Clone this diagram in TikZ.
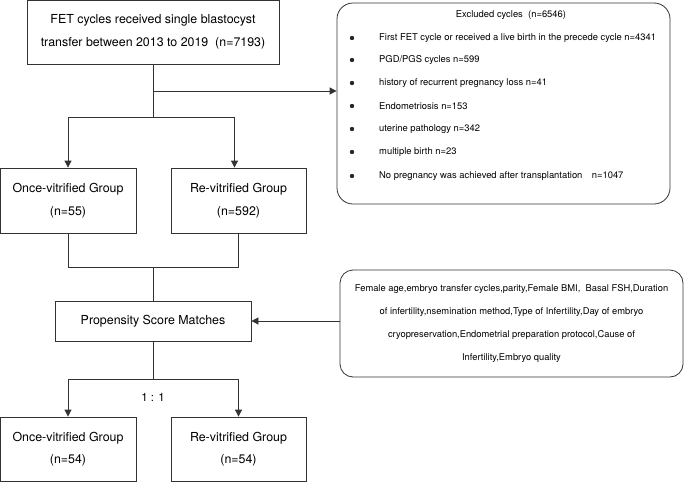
\documentclass[tikz,border=0pt]{standalone}
\usepackage{fontspec}
\setmainfont{TeX Gyre Heros}
\usetikzlibrary{arrows.meta}
\usetikzlibrary{positioning}
\tikzset{
box/.style = { rectangle, draw = black!80, fill = white, line width = 0.8pt, align = center, inner sep = 0pt, font = \fontsize{12.4}{22.5}\selectfont },
roundbox/.style = { rectangle, draw = black!80, line width = 0.8pt, inner sep = 0pt },
excl item/.style = { anchor = west, inner sep = 0pt, font = \fontsize{9.4}{11}\selectfont },
link/.style = { draw = black!80, line width = 0.8pt },
arr/.style = { link, -{Triangle[length = 7pt, width = 7pt]} },
}

\begin{document}
\begin{tikzpicture}[x = 1pt, y = -1pt]
    \useasboundingbox (0, 0) rectangle (685, 482);
    % main column
    \node[box, minimum width = 252pt, minimum height = 64pt] (fet) at (153, 32) {FET cycles received single blastocyst\\transfer between 2013 to 2019\ \ (n=7193)};
    \node[box, minimum width = 136pt, minimum height = 65pt] (once1) at (68, 200.5) {Once-vitrified Group\\(n=55)};
    \node[box, minimum width = 135pt, minimum height = 65pt] (re1) at (238.5, 200.5) {Re-vitrified Group\\(n=592)};
    \node[box, minimum width = 196pt, minimum height = 40pt] (psm) at (153, 321) {Propensity Score Matches};
    \node[box, minimum width = 136pt, minimum height = 64pt] (once2) at (68, 449) {Once-vitrified Group\\(n=54)};
    \node[box, minimum width = 135pt, minimum height = 64pt] (re2) at (238.5, 449) {Re-vitrified Group\\(n=54)};
    % side boxes
    \node[roundbox, rounded corners = 16pt, minimum width = 333pt, minimum height = 201pt] (excl) at (503.5, 103.5) {};
    \node[excl item, anchor = center] (excltitle) at (511, 15) {Excluded cycles\ \ (n=6546)};
    \foreach \y in {38, 60, 83, 106, 129, 152, 176}
        \fill[black!85] (352, \y) circle (2.2pt);
    \node[excl item] (item1) at (379, 38) {First FET cycle or received a live birth in the precede cycle n=4341};
    \node[excl item] (item2) at (379, 60) {PGD/PGS cycles n=599};
    \node[excl item] (item3) at (379, 83) {history of recurrent pregnancy loss n=41};
    \node[excl item] (item4) at (379, 106) {Endometriosis n=153};
    \node[excl item] (item5) at (379, 129) {uterine pathology n=342};
    \node[excl item] (item6) at (379, 152) {multiple birth n=23};
    \node[excl item] (item7) at (379, 176) {No pregnancy was achieved after transplantation\quad n=1047};
    \node[roundbox, rounded corners = 13pt, minimum width = 343pt, minimum height = 107pt, align = center, font = \fontsize{9.35}{23.2}\selectfont] (cov) at (511.5, 323.5) {Female age,embryo transfer cycles,parity,Female BMI,\ \ Basal FSH,Duration\\of infertility,nsemination method,Type of Infertility,Day of embryo\\cryopreservation,Endometrial preparation protocol,Cause of\\Infertility,Embryo quality};
    % connectors
    \coordinate (split1) at (153, 117);
    \coordinate (branch) at (153, 91);
    \draw[link] (fet.south) -- (split1);
    \draw[arr] (branch) -- (excl.west |- branch);
    \draw[arr] (split1) -| (once1.north);
    \draw[arr] (split1) -| ([xshift = -4pt]re1.north);
    \coordinate (join1) at (153, 267);
    \draw[link] (once1.south) |- (join1);
    \draw[link] (re1.south) |- (join1);
    \draw[link] (join1) -- (psm.north);
    \draw[arr] (cov.west |- psm.east) -- (psm.east);
    \coordinate (split2) at (153, 379);
    \draw[link] (psm.south) -- (split2);
    \draw[arr] (split2) -| (once2.north);
    \draw[arr] (split2) -| (re2.north);
    \node[font = \fontsize{11.5}{13}\selectfont] (ratio) at (153, 397) {1 : 1};
\end{tikzpicture}
\end{document}
